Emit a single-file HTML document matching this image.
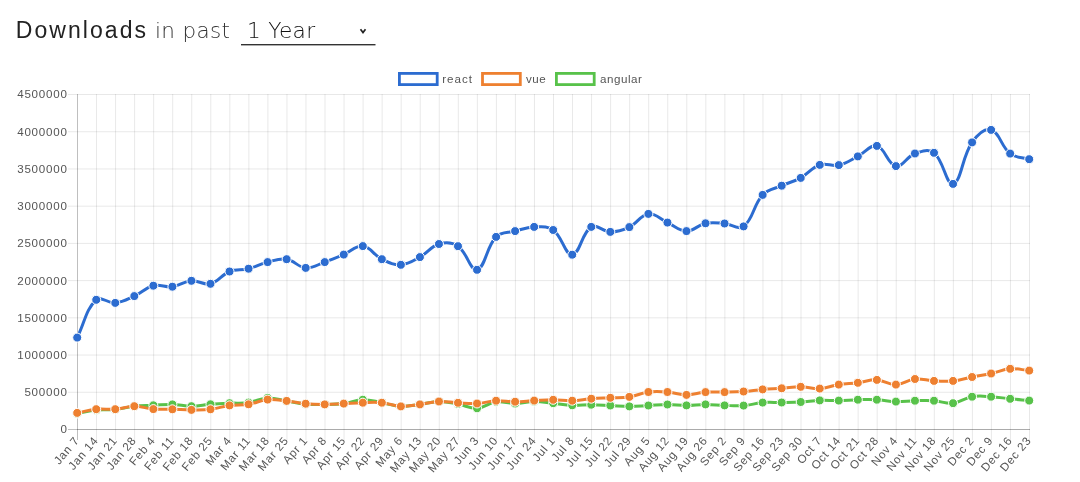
<!DOCTYPE html>
<html><head><meta charset="utf-8"><title>Downloads</title>
<style>
html,body{margin:0;padding:0;background:#fff;}
body{width:1080px;height:482px;overflow:hidden;position:relative;font-family:"Liberation Sans",Arial,sans-serif;}
svg{position:absolute;left:0;top:0;}
</style></head><body>
<svg width="1080" height="482" viewBox="0 0 1080 482">
<text x="15.8" y="37.8" font-family="Liberation Sans, Arial, sans-serif" font-size="23" fill="#222" letter-spacing="2.05">Downloads</text>
<text x="155" y="37.5" font-family="DejaVu Sans, sans-serif" font-weight="200" font-size="21.5" fill="#333" letter-spacing="0.35">in past</text>
<text x="247" y="37.6" font-family="DejaVu Sans, sans-serif" font-weight="200" font-size="21.7" fill="#111" letter-spacing="0.3">1 Year</text>
<rect x="241" y="44" width="134.5" height="1.4" fill="#333"/>
<path d="M360.5 29.3 L363 32.6 L365.5 29.3" fill="none" stroke="#222" stroke-width="1.7"/>
<g stroke="rgba(0,0,0,0.09)" stroke-width="1"><line x1="96.54" y1="94" x2="96.54" y2="440"/><line x1="115.58" y1="94" x2="115.58" y2="440"/><line x1="134.62" y1="94" x2="134.62" y2="440"/><line x1="153.66" y1="94" x2="153.66" y2="440"/><line x1="172.70" y1="94" x2="172.70" y2="440"/><line x1="191.74" y1="94" x2="191.74" y2="440"/><line x1="210.78" y1="94" x2="210.78" y2="440"/><line x1="229.82" y1="94" x2="229.82" y2="440"/><line x1="248.86" y1="94" x2="248.86" y2="440"/><line x1="267.90" y1="94" x2="267.90" y2="440"/><line x1="286.94" y1="94" x2="286.94" y2="440"/><line x1="305.98" y1="94" x2="305.98" y2="440"/><line x1="325.02" y1="94" x2="325.02" y2="440"/><line x1="344.06" y1="94" x2="344.06" y2="440"/><line x1="363.10" y1="94" x2="363.10" y2="440"/><line x1="382.14" y1="94" x2="382.14" y2="440"/><line x1="401.18" y1="94" x2="401.18" y2="440"/><line x1="420.22" y1="94" x2="420.22" y2="440"/><line x1="439.26" y1="94" x2="439.26" y2="440"/><line x1="458.30" y1="94" x2="458.30" y2="440"/><line x1="477.34" y1="94" x2="477.34" y2="440"/><line x1="496.38" y1="94" x2="496.38" y2="440"/><line x1="515.42" y1="94" x2="515.42" y2="440"/><line x1="534.46" y1="94" x2="534.46" y2="440"/><line x1="553.50" y1="94" x2="553.50" y2="440"/><line x1="572.54" y1="94" x2="572.54" y2="440"/><line x1="591.58" y1="94" x2="591.58" y2="440"/><line x1="610.62" y1="94" x2="610.62" y2="440"/><line x1="629.66" y1="94" x2="629.66" y2="440"/><line x1="648.70" y1="94" x2="648.70" y2="440"/><line x1="667.74" y1="94" x2="667.74" y2="440"/><line x1="686.78" y1="94" x2="686.78" y2="440"/><line x1="705.82" y1="94" x2="705.82" y2="440"/><line x1="724.86" y1="94" x2="724.86" y2="440"/><line x1="743.90" y1="94" x2="743.90" y2="440"/><line x1="762.94" y1="94" x2="762.94" y2="440"/><line x1="781.98" y1="94" x2="781.98" y2="440"/><line x1="801.02" y1="94" x2="801.02" y2="440"/><line x1="820.06" y1="94" x2="820.06" y2="440"/><line x1="839.10" y1="94" x2="839.10" y2="440"/><line x1="858.14" y1="94" x2="858.14" y2="440"/><line x1="877.18" y1="94" x2="877.18" y2="440"/><line x1="896.22" y1="94" x2="896.22" y2="440"/><line x1="915.26" y1="94" x2="915.26" y2="440"/><line x1="934.30" y1="94" x2="934.30" y2="440"/><line x1="953.34" y1="94" x2="953.34" y2="440"/><line x1="972.38" y1="94" x2="972.38" y2="440"/><line x1="991.42" y1="94" x2="991.42" y2="440"/><line x1="1010.46" y1="94" x2="1010.46" y2="440"/><line x1="1029.50" y1="94" x2="1029.50" y2="440"/><line x1="68" y1="392.28" x2="1030" y2="392.28"/><line x1="68" y1="355.06" x2="1030" y2="355.06"/><line x1="68" y1="317.83" x2="1030" y2="317.83"/><line x1="68" y1="280.61" x2="1030" y2="280.61"/><line x1="68" y1="243.39" x2="1030" y2="243.39"/><line x1="68" y1="206.17" x2="1030" y2="206.17"/><line x1="68" y1="168.94" x2="1030" y2="168.94"/><line x1="68" y1="131.72" x2="1030" y2="131.72"/><line x1="68" y1="94.50" x2="1030" y2="94.50"/></g>
<line x1="77.5" y1="94" x2="77.5" y2="440" stroke="rgba(0,0,0,0.25)"/>
<line x1="68" y1="429.5" x2="1030" y2="429.5" stroke="rgba(0,0,0,0.25)"/>
<line x1="77" y1="429.5" x2="1030" y2="429.5" stroke="rgba(0,0,0,0.1)"/>
<g font-family="Liberation Sans, Arial, sans-serif" font-size="11.6" fill="#555" letter-spacing="0.75" text-anchor="end"><text x="67.6" y="433.4">0</text><text x="67.6" y="396.2">500000</text><text x="67.6" y="359.0">1000000</text><text x="67.6" y="321.7">1500000</text><text x="67.6" y="284.5">2000000</text><text x="67.6" y="247.3">2500000</text><text x="67.6" y="210.1">3000000</text><text x="67.6" y="172.8">3500000</text><text x="67.6" y="135.6">4000000</text><text x="67.6" y="98.4">4500000</text></g>
<g font-family="Liberation Sans, Arial, sans-serif" font-size="11.6" fill="#555" letter-spacing="0.75" text-anchor="end"><text transform="translate(79.8 440.7) rotate(-50)">Jan 7</text><text transform="translate(98.8 440.7) rotate(-50)">Jan 14</text><text transform="translate(117.9 440.7) rotate(-50)">Jan 21</text><text transform="translate(136.9 440.7) rotate(-50)">Jan 28</text><text transform="translate(156.0 440.7) rotate(-50)">Feb 4</text><text transform="translate(175.0 440.7) rotate(-50)">Feb 11</text><text transform="translate(194.0 440.7) rotate(-50)">Feb 18</text><text transform="translate(213.1 440.7) rotate(-50)">Feb 25</text><text transform="translate(232.1 440.7) rotate(-50)">Mar 4</text><text transform="translate(251.2 440.7) rotate(-50)">Mar 11</text><text transform="translate(270.2 440.7) rotate(-50)">Mar 18</text><text transform="translate(289.2 440.7) rotate(-50)">Mar 25</text><text transform="translate(308.3 440.7) rotate(-50)">Apr 1</text><text transform="translate(327.3 440.7) rotate(-50)">Apr 8</text><text transform="translate(346.4 440.7) rotate(-50)">Apr 15</text><text transform="translate(365.4 440.7) rotate(-50)">Apr 22</text><text transform="translate(384.4 440.7) rotate(-50)">Apr 29</text><text transform="translate(403.5 440.7) rotate(-50)">May 6</text><text transform="translate(422.5 440.7) rotate(-50)">May 13</text><text transform="translate(441.6 440.7) rotate(-50)">May 20</text><text transform="translate(460.6 440.7) rotate(-50)">May 27</text><text transform="translate(479.6 440.7) rotate(-50)">Jun 3</text><text transform="translate(498.7 440.7) rotate(-50)">Jun 10</text><text transform="translate(517.7 440.7) rotate(-50)">Jun 17</text><text transform="translate(536.8 440.7) rotate(-50)">Jun 24</text><text transform="translate(555.8 440.7) rotate(-50)">Jul 1</text><text transform="translate(574.8 440.7) rotate(-50)">Jul 8</text><text transform="translate(593.9 440.7) rotate(-50)">Jul 15</text><text transform="translate(612.9 440.7) rotate(-50)">Jul 22</text><text transform="translate(632.0 440.7) rotate(-50)">Jul 29</text><text transform="translate(651.0 440.7) rotate(-50)">Aug 5</text><text transform="translate(670.0 440.7) rotate(-50)">Aug 12</text><text transform="translate(689.1 440.7) rotate(-50)">Aug 19</text><text transform="translate(708.1 440.7) rotate(-50)">Aug 26</text><text transform="translate(727.2 440.7) rotate(-50)">Sep 2</text><text transform="translate(746.2 440.7) rotate(-50)">Sep 9</text><text transform="translate(765.2 440.7) rotate(-50)">Sep 16</text><text transform="translate(784.3 440.7) rotate(-50)">Sep 23</text><text transform="translate(803.3 440.7) rotate(-50)">Sep 30</text><text transform="translate(822.4 440.7) rotate(-50)">Oct 7</text><text transform="translate(841.4 440.7) rotate(-50)">Oct 14</text><text transform="translate(860.4 440.7) rotate(-50)">Oct 21</text><text transform="translate(879.5 440.7) rotate(-50)">Oct 28</text><text transform="translate(898.5 440.7) rotate(-50)">Nov 4</text><text transform="translate(917.6 440.7) rotate(-50)">Nov 11</text><text transform="translate(936.6 440.7) rotate(-50)">Nov 18</text><text transform="translate(955.6 440.7) rotate(-50)">Nov 25</text><text transform="translate(974.7 440.7) rotate(-50)">Dec 2</text><text transform="translate(993.7 440.7) rotate(-50)">Dec 9</text><text transform="translate(1012.8 440.7) rotate(-50)">Dec 16</text><text transform="translate(1031.8 440.7) rotate(-50)">Dec 23</text></g>
<g font-family="Liberation Sans, Arial, sans-serif" font-size="11.6" fill="#555" letter-spacing="0.55"><rect x="399.4" y="73.4" width="37.8" height="11.2" fill="none" stroke="#2c6cd0" stroke-width="2.8"/><text x="442.3" y="82.8" letter-spacing="0.95">react</text><rect x="482.5" y="73.4" width="37.8" height="11.2" fill="none" stroke="#ee8030" stroke-width="2.8"/><text x="526.0" y="82.8">vue</text><rect x="556.4" y="73.4" width="37.8" height="11.2" fill="none" stroke="#58c24a" stroke-width="2.8"/><text x="600.0" y="82.8">angular</text></g>
<path d="M77.20 413.60 C84.82 412.16 88.56 410.83 96.24 410.00 C103.79 409.19 107.72 410.23 115.28 409.50 C122.95 408.75 126.66 407.15 134.32 406.30 C141.89 405.47 145.74 405.68 153.36 405.30 C160.98 404.92 164.80 404.22 172.40 404.40 C180.03 404.58 183.83 406.22 191.44 406.20 C199.06 406.18 202.85 404.90 210.48 404.30 C218.08 403.70 221.90 403.54 229.52 403.20 C237.13 402.86 241.05 403.64 248.56 402.60 C256.29 401.52 259.92 398.22 267.60 397.90 C275.15 397.58 279.02 399.78 286.64 401.00 C294.25 402.22 298.02 403.30 305.68 404.00 C313.25 404.70 317.11 404.58 324.72 404.50 C332.34 404.42 336.22 404.55 343.76 403.60 C351.45 402.63 355.15 399.88 362.80 399.70 C370.38 399.52 374.25 401.36 381.84 402.70 C389.48 404.04 393.21 406.06 400.88 406.40 C408.45 406.74 412.33 405.38 419.92 404.40 C427.56 403.42 431.34 401.56 438.96 401.50 C446.57 401.44 450.44 402.75 458.00 404.10 C465.67 405.47 469.54 408.75 477.04 408.30 C484.78 407.83 488.27 402.78 496.08 401.80 C503.50 400.86 507.51 403.56 515.12 403.50 C522.74 403.44 526.54 401.56 534.16 401.50 C541.77 401.44 545.59 402.44 553.20 403.20 C560.82 403.96 564.60 405.00 572.24 405.30 C579.83 405.60 583.67 404.66 591.28 404.70 C598.90 404.74 602.70 405.16 610.32 405.50 C617.94 405.84 621.74 406.40 629.36 406.40 C636.98 406.40 640.78 405.88 648.40 405.50 C656.02 405.12 659.82 404.52 667.44 404.50 C675.06 404.48 678.86 405.42 686.48 405.40 C694.10 405.38 697.90 404.40 705.52 404.40 C713.14 404.40 716.94 405.16 724.56 405.40 C732.17 405.64 736.03 406.16 743.60 405.60 C751.26 405.04 754.98 403.22 762.64 402.60 C770.21 401.98 774.07 402.62 781.68 402.50 C789.30 402.38 793.12 402.42 800.72 402.00 C808.35 401.58 812.13 400.68 819.76 400.40 C827.36 400.12 831.19 400.74 838.80 400.60 C846.42 400.46 850.22 399.88 857.84 399.70 C865.45 399.52 869.28 399.32 876.88 399.70 C884.51 400.08 888.29 401.40 895.92 401.60 C903.52 401.80 907.34 400.88 914.96 400.70 C922.57 400.52 926.42 400.20 934.00 400.70 C941.65 401.20 945.60 403.98 953.04 403.20 C960.83 402.38 964.25 398.04 972.08 396.70 C979.49 395.44 983.53 396.28 991.12 396.70 C998.76 397.12 1002.54 398.02 1010.16 398.80 C1017.77 399.58 1021.58 399.88 1029.20 400.60" fill="none" stroke="#58c24a" stroke-width="3"/>
<g fill="#58c24a" stroke="#fff" stroke-width="1">
<circle cx="77.20" cy="413.60" r="4.5"/>
<circle cx="96.24" cy="410.00" r="4.5"/>
<circle cx="115.28" cy="409.50" r="4.5"/>
<circle cx="134.32" cy="406.30" r="4.5"/>
<circle cx="153.36" cy="405.30" r="4.5"/>
<circle cx="172.40" cy="404.40" r="4.5"/>
<circle cx="191.44" cy="406.20" r="4.5"/>
<circle cx="210.48" cy="404.30" r="4.5"/>
<circle cx="229.52" cy="403.20" r="4.5"/>
<circle cx="248.56" cy="402.60" r="4.5"/>
<circle cx="267.60" cy="397.90" r="4.5"/>
<circle cx="286.64" cy="401.00" r="4.5"/>
<circle cx="305.68" cy="404.00" r="4.5"/>
<circle cx="324.72" cy="404.50" r="4.5"/>
<circle cx="343.76" cy="403.60" r="4.5"/>
<circle cx="362.80" cy="399.70" r="4.5"/>
<circle cx="381.84" cy="402.70" r="4.5"/>
<circle cx="400.88" cy="406.40" r="4.5"/>
<circle cx="419.92" cy="404.40" r="4.5"/>
<circle cx="438.96" cy="401.50" r="4.5"/>
<circle cx="458.00" cy="404.10" r="4.5"/>
<circle cx="477.04" cy="408.30" r="4.5"/>
<circle cx="496.08" cy="401.80" r="4.5"/>
<circle cx="515.12" cy="403.50" r="4.5"/>
<circle cx="534.16" cy="401.50" r="4.5"/>
<circle cx="553.20" cy="403.20" r="4.5"/>
<circle cx="572.24" cy="405.30" r="4.5"/>
<circle cx="591.28" cy="404.70" r="4.5"/>
<circle cx="610.32" cy="405.50" r="4.5"/>
<circle cx="629.36" cy="406.40" r="4.5"/>
<circle cx="648.40" cy="405.50" r="4.5"/>
<circle cx="667.44" cy="404.50" r="4.5"/>
<circle cx="686.48" cy="405.40" r="4.5"/>
<circle cx="705.52" cy="404.40" r="4.5"/>
<circle cx="724.56" cy="405.40" r="4.5"/>
<circle cx="743.60" cy="405.60" r="4.5"/>
<circle cx="762.64" cy="402.60" r="4.5"/>
<circle cx="781.68" cy="402.50" r="4.5"/>
<circle cx="800.72" cy="402.00" r="4.5"/>
<circle cx="819.76" cy="400.40" r="4.5"/>
<circle cx="838.80" cy="400.60" r="4.5"/>
<circle cx="857.84" cy="399.70" r="4.5"/>
<circle cx="876.88" cy="399.70" r="4.5"/>
<circle cx="895.92" cy="401.60" r="4.5"/>
<circle cx="914.96" cy="400.70" r="4.5"/>
<circle cx="934.00" cy="400.70" r="4.5"/>
<circle cx="953.04" cy="403.20" r="4.5"/>
<circle cx="972.08" cy="396.70" r="4.5"/>
<circle cx="991.12" cy="396.70" r="4.5"/>
<circle cx="1010.16" cy="398.80" r="4.5"/>
<circle cx="1029.20" cy="400.60" r="4.5"/>
</g>
<path d="M77.20 412.90 C84.82 411.42 88.55 409.95 96.24 409.20 C103.79 408.47 107.71 409.80 115.28 409.20 C122.94 408.60 126.70 406.22 134.32 406.20 C141.93 406.18 145.70 408.48 153.36 409.10 C160.93 409.72 164.79 409.14 172.40 409.30 C180.02 409.46 183.82 409.90 191.44 409.90 C199.06 409.90 202.94 410.19 210.48 409.30 C218.17 408.39 221.83 406.41 229.52 405.40 C237.06 404.41 241.05 405.44 248.56 404.30 C256.28 403.12 259.88 400.29 267.60 399.60 C275.11 398.93 279.06 400.08 286.64 400.90 C294.29 401.72 298.03 403.00 305.68 403.70 C313.26 404.40 317.10 404.42 324.72 404.40 C332.34 404.38 336.14 403.94 343.76 403.60 C351.38 403.26 355.18 402.88 362.80 402.70 C370.41 402.52 374.29 401.97 381.84 402.70 C389.53 403.45 393.21 406.06 400.88 406.40 C408.45 406.74 412.33 405.38 419.92 404.40 C427.56 403.42 431.31 401.82 438.96 401.50 C446.54 401.18 450.38 402.40 458.00 402.80 C465.61 403.20 469.46 403.92 477.04 403.50 C484.69 403.08 488.43 401.06 496.08 400.70 C503.66 400.34 507.51 401.72 515.12 401.70 C522.74 401.68 526.54 400.98 534.16 400.60 C541.77 400.22 545.58 399.78 553.20 399.80 C560.82 399.82 564.64 400.92 572.24 400.70 C579.87 400.48 583.65 399.28 591.28 398.70 C598.88 398.12 602.70 398.16 610.32 397.80 C617.94 397.44 621.86 398.04 629.36 396.90 C637.09 395.72 640.66 393.00 648.40 392.00 C655.89 391.04 659.87 391.42 667.44 392.00 C675.10 392.58 678.86 394.88 686.48 394.90 C694.09 394.92 697.86 392.66 705.52 392.10 C713.10 391.54 716.95 392.22 724.56 392.10 C732.18 391.98 736.01 392.04 743.60 391.50 C751.24 390.96 755.01 390.04 762.64 389.40 C770.24 388.76 774.07 388.82 781.68 388.30 C789.30 387.78 793.11 386.74 800.72 386.80 C808.34 386.86 812.21 389.04 819.76 388.60 C827.44 388.16 831.12 385.77 838.80 384.60 C846.35 383.45 850.25 383.74 857.84 382.80 C865.48 381.86 869.33 379.54 876.88 379.90 C884.56 380.26 888.35 384.78 895.92 384.60 C903.58 384.42 907.20 379.75 914.96 379.00 C922.44 378.27 926.37 380.52 934.00 380.90 C941.60 381.28 945.50 381.67 953.04 380.90 C960.73 380.11 964.45 378.48 972.08 377.00 C979.68 375.52 983.55 375.13 991.12 373.50 C998.79 371.85 1002.45 369.39 1010.16 368.80 C1017.68 368.23 1021.58 369.88 1029.20 370.60" fill="none" stroke="#ee8030" stroke-width="3"/>
<g fill="#ee8030" stroke="#fff" stroke-width="1">
<circle cx="77.20" cy="412.90" r="4.5"/>
<circle cx="96.24" cy="409.20" r="4.5"/>
<circle cx="115.28" cy="409.20" r="4.5"/>
<circle cx="134.32" cy="406.20" r="4.5"/>
<circle cx="153.36" cy="409.10" r="4.5"/>
<circle cx="172.40" cy="409.30" r="4.5"/>
<circle cx="191.44" cy="409.90" r="4.5"/>
<circle cx="210.48" cy="409.30" r="4.5"/>
<circle cx="229.52" cy="405.40" r="4.5"/>
<circle cx="248.56" cy="404.30" r="4.5"/>
<circle cx="267.60" cy="399.60" r="4.5"/>
<circle cx="286.64" cy="400.90" r="4.5"/>
<circle cx="305.68" cy="403.70" r="4.5"/>
<circle cx="324.72" cy="404.40" r="4.5"/>
<circle cx="343.76" cy="403.60" r="4.5"/>
<circle cx="362.80" cy="402.70" r="4.5"/>
<circle cx="381.84" cy="402.70" r="4.5"/>
<circle cx="400.88" cy="406.40" r="4.5"/>
<circle cx="419.92" cy="404.40" r="4.5"/>
<circle cx="438.96" cy="401.50" r="4.5"/>
<circle cx="458.00" cy="402.80" r="4.5"/>
<circle cx="477.04" cy="403.50" r="4.5"/>
<circle cx="496.08" cy="400.70" r="4.5"/>
<circle cx="515.12" cy="401.70" r="4.5"/>
<circle cx="534.16" cy="400.60" r="4.5"/>
<circle cx="553.20" cy="399.80" r="4.5"/>
<circle cx="572.24" cy="400.70" r="4.5"/>
<circle cx="591.28" cy="398.70" r="4.5"/>
<circle cx="610.32" cy="397.80" r="4.5"/>
<circle cx="629.36" cy="396.90" r="4.5"/>
<circle cx="648.40" cy="392.00" r="4.5"/>
<circle cx="667.44" cy="392.00" r="4.5"/>
<circle cx="686.48" cy="394.90" r="4.5"/>
<circle cx="705.52" cy="392.10" r="4.5"/>
<circle cx="724.56" cy="392.10" r="4.5"/>
<circle cx="743.60" cy="391.50" r="4.5"/>
<circle cx="762.64" cy="389.40" r="4.5"/>
<circle cx="781.68" cy="388.30" r="4.5"/>
<circle cx="800.72" cy="386.80" r="4.5"/>
<circle cx="819.76" cy="388.60" r="4.5"/>
<circle cx="838.80" cy="384.60" r="4.5"/>
<circle cx="857.84" cy="382.80" r="4.5"/>
<circle cx="876.88" cy="379.90" r="4.5"/>
<circle cx="895.92" cy="384.60" r="4.5"/>
<circle cx="914.96" cy="379.00" r="4.5"/>
<circle cx="934.00" cy="380.90" r="4.5"/>
<circle cx="953.04" cy="380.90" r="4.5"/>
<circle cx="972.08" cy="377.00" r="4.5"/>
<circle cx="991.12" cy="373.50" r="4.5"/>
<circle cx="1010.16" cy="368.80" r="4.5"/>
<circle cx="1029.20" cy="370.60" r="4.5"/>
</g>
<path d="M77.20 337.60 C84.82 322.48 85.78 309.33 96.24 299.80 C101.01 295.45 107.84 303.62 115.28 302.90 C123.07 302.14 126.97 299.42 134.32 296.10 C142.20 292.54 145.25 287.70 153.36 285.70 C160.48 283.94 164.95 287.66 172.40 286.70 C180.19 285.70 183.70 281.39 191.44 280.80 C198.93 280.23 203.48 285.51 210.48 283.80 C218.71 281.79 221.28 274.77 229.52 271.50 C236.51 268.73 241.12 270.54 248.56 268.70 C256.35 266.78 259.81 264.04 267.60 262.10 C275.04 260.24 279.34 258.09 286.64 259.20 C294.57 260.41 297.87 267.31 305.68 267.90 C313.10 268.47 317.21 264.72 324.72 262.10 C332.44 259.40 336.22 257.77 343.76 254.60 C351.45 251.37 355.58 245.23 362.80 246.10 C370.81 247.07 373.65 255.18 381.84 259.20 C388.88 262.66 393.39 265.21 400.88 264.80 C408.63 264.37 412.75 261.01 419.92 257.10 C427.98 252.69 430.63 246.38 438.96 244.00 C445.87 242.02 452.10 242.20 458.00 246.20 C467.33 252.52 470.28 271.45 477.04 269.80 C485.51 267.73 486.08 247.06 496.08 236.90 C501.31 231.58 507.43 233.12 515.12 231.10 C522.66 229.12 526.50 227.12 534.16 226.90 C541.74 226.68 547.38 225.75 553.20 230.00 C562.61 236.87 564.92 255.30 572.24 254.70 C580.15 254.06 581.67 232.66 591.28 226.90 C596.90 223.54 602.69 231.86 610.32 231.90 C617.93 231.94 622.37 230.40 629.36 227.10 C637.60 223.20 640.40 214.85 648.40 213.90 C655.63 213.05 659.81 219.15 667.44 222.60 C675.04 226.03 678.81 230.96 686.48 231.10 C694.05 231.24 697.61 224.88 705.52 223.30 C712.84 221.84 716.99 222.88 724.56 223.50 C732.22 224.12 738.37 230.33 743.60 226.40 C753.60 218.89 752.97 205.24 762.64 194.90 C768.20 188.96 773.96 189.15 781.68 185.70 C789.19 182.35 793.54 181.82 800.72 177.90 C808.77 173.50 811.42 167.70 819.76 164.90 C826.65 162.58 831.54 166.72 838.80 165.10 C846.78 163.32 850.37 160.17 857.84 156.40 C865.60 152.49 870.19 144.20 876.88 145.90 C885.42 148.08 887.56 164.43 895.92 166.10 C902.79 167.47 906.66 156.40 914.96 153.50 C921.89 151.08 928.77 148.63 934.00 152.80 C944.00 160.79 946.28 185.75 953.04 183.90 C961.51 181.59 961.92 156.81 972.08 142.40 C977.15 135.21 984.60 127.98 991.12 129.90 C999.83 132.46 1000.94 146.51 1010.16 153.60 C1016.18 158.23 1021.58 156.96 1029.20 159.20" fill="none" stroke="#2c6cd0" stroke-width="3"/>
<g fill="#2c6cd0" stroke="#fff" stroke-width="1">
<circle cx="77.20" cy="337.60" r="4.5"/>
<circle cx="96.24" cy="299.80" r="4.5"/>
<circle cx="115.28" cy="302.90" r="4.5"/>
<circle cx="134.32" cy="296.10" r="4.5"/>
<circle cx="153.36" cy="285.70" r="4.5"/>
<circle cx="172.40" cy="286.70" r="4.5"/>
<circle cx="191.44" cy="280.80" r="4.5"/>
<circle cx="210.48" cy="283.80" r="4.5"/>
<circle cx="229.52" cy="271.50" r="4.5"/>
<circle cx="248.56" cy="268.70" r="4.5"/>
<circle cx="267.60" cy="262.10" r="4.5"/>
<circle cx="286.64" cy="259.20" r="4.5"/>
<circle cx="305.68" cy="267.90" r="4.5"/>
<circle cx="324.72" cy="262.10" r="4.5"/>
<circle cx="343.76" cy="254.60" r="4.5"/>
<circle cx="362.80" cy="246.10" r="4.5"/>
<circle cx="381.84" cy="259.20" r="4.5"/>
<circle cx="400.88" cy="264.80" r="4.5"/>
<circle cx="419.92" cy="257.10" r="4.5"/>
<circle cx="438.96" cy="244.00" r="4.5"/>
<circle cx="458.00" cy="246.20" r="4.5"/>
<circle cx="477.04" cy="269.80" r="4.5"/>
<circle cx="496.08" cy="236.90" r="4.5"/>
<circle cx="515.12" cy="231.10" r="4.5"/>
<circle cx="534.16" cy="226.90" r="4.5"/>
<circle cx="553.20" cy="230.00" r="4.5"/>
<circle cx="572.24" cy="254.70" r="4.5"/>
<circle cx="591.28" cy="226.90" r="4.5"/>
<circle cx="610.32" cy="231.90" r="4.5"/>
<circle cx="629.36" cy="227.10" r="4.5"/>
<circle cx="648.40" cy="213.90" r="4.5"/>
<circle cx="667.44" cy="222.60" r="4.5"/>
<circle cx="686.48" cy="231.10" r="4.5"/>
<circle cx="705.52" cy="223.30" r="4.5"/>
<circle cx="724.56" cy="223.50" r="4.5"/>
<circle cx="743.60" cy="226.40" r="4.5"/>
<circle cx="762.64" cy="194.90" r="4.5"/>
<circle cx="781.68" cy="185.70" r="4.5"/>
<circle cx="800.72" cy="177.90" r="4.5"/>
<circle cx="819.76" cy="164.90" r="4.5"/>
<circle cx="838.80" cy="165.10" r="4.5"/>
<circle cx="857.84" cy="156.40" r="4.5"/>
<circle cx="876.88" cy="145.90" r="4.5"/>
<circle cx="895.92" cy="166.10" r="4.5"/>
<circle cx="914.96" cy="153.50" r="4.5"/>
<circle cx="934.00" cy="152.80" r="4.5"/>
<circle cx="953.04" cy="183.90" r="4.5"/>
<circle cx="972.08" cy="142.40" r="4.5"/>
<circle cx="991.12" cy="129.90" r="4.5"/>
<circle cx="1010.16" cy="153.60" r="4.5"/>
<circle cx="1029.20" cy="159.20" r="4.5"/>
</g>
</svg>
</body></html>
